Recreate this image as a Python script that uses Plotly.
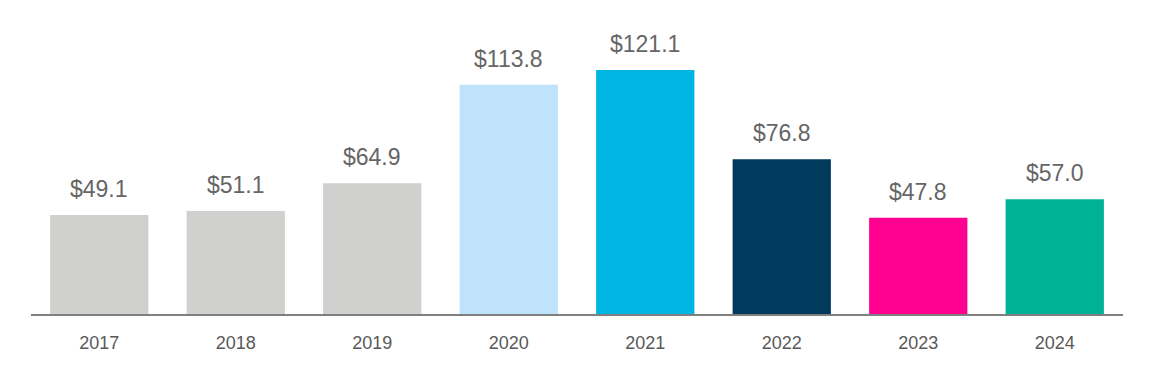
import plotly.graph_objects as go

years = ["2017", "2018", "2019", "2020", "2021", "2022", "2023", "2024"]
values = [49.1, 51.1, 64.9, 113.8, 121.1, 76.8, 47.8, 57.0]
labels = ["$49.1", "$51.1", "$64.9", "$113.8", "$121.1", "$76.8", "$47.8", "$57.0"]
colors = ["#D0D0CE", "#D0D0CE", "#D0D0CE", "#BFE3FB", "#00B5E2", "#003A5D", "#FF0090", "#00B398"]

FONT = "Liberation Sans Narrow, Arial Narrow, Liberation Sans, Arial, sans-serif"

fig = go.Figure(go.Bar(
    x=years, y=values, marker=dict(color=colors, line=dict(width=0)),
    hoverinfo="x+y",
))
for i, (v, lab) in enumerate(zip(values, labels)):
    fig.add_annotation(x=i, y=v, text=lab, showarrow=False, yanchor="bottom",
                       yshift=11, font=dict(family=FONT, size=23, color="#666666"))
fig.update_layout(
    width=1152, height=384,
    margin=dict(l=23, r=37, t=2, b=78),
    plot_bgcolor="white", paper_bgcolor="white",
    bargap=0.28, showlegend=False,
    font=dict(family=FONT),
)
fig.update_xaxes(type="category", range=[-0.5, len(years) - 0.5],
                 showline=True, linecolor="#7F7F7F", linewidth=2, ticks="",
                 ticklabelstandoff=11,
                 tickfont=dict(family=FONT, size=18, color="#595959"), showgrid=False)
fig.update_yaxes(visible=False, range=[0, 150.9], showgrid=False, zeroline=False)
fig.write_html("out.html")
